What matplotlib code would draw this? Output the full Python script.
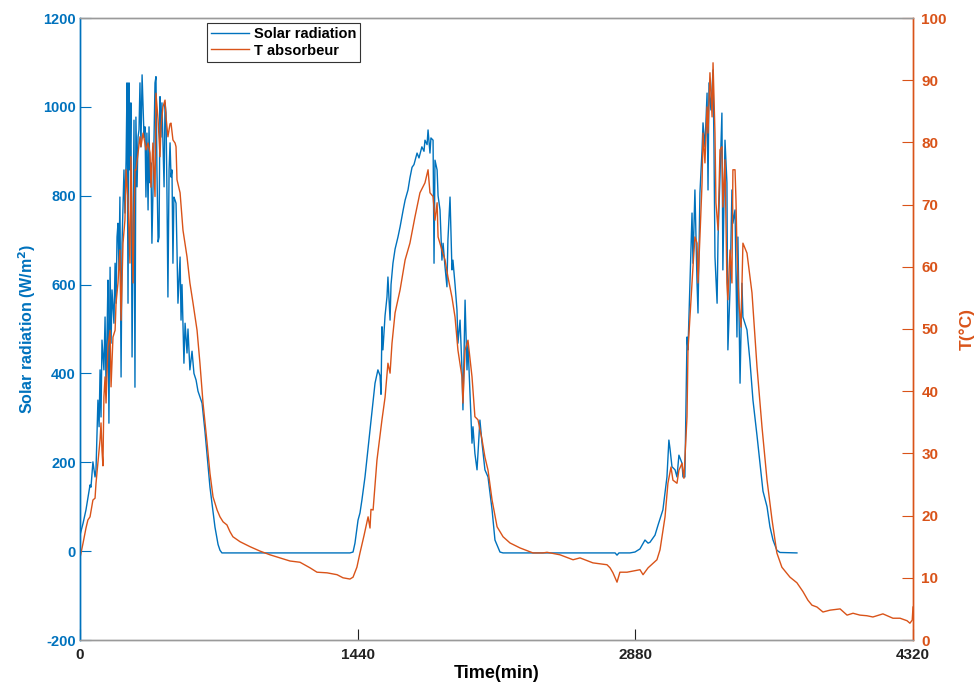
import matplotlib
matplotlib.use("Agg")
import matplotlib.pyplot as plt
from matplotlib.lines import Line2D

# ---------------- data ----------------
t_sun = [0, 16, 31, 52, 57, 67, 78, 83, 93, 99, 104, 109, 114, 124, 130, 135, 140, 145, 150,
         156, 161, 166, 176, 182, 187, 192, 197, 202, 207, 213, 218, 228, 233, 239, 244, 249,
         254, 259, 264, 270, 280, 285, 290, 296, 301, 306, 311, 316, 322, 332, 337, 342, 347,
         353, 358, 363, 368, 373, 384, 389, 394, 399, 405, 410, 415, 420, 425, 436, 441, 446,
         451, 456, 462, 467, 472, 477, 482, 487, 493, 498, 503, 508, 519, 524, 529, 539, 545,
         555, 560, 570, 581, 591, 602, 612, 633, 648, 674, 700, 716, 726, 736,
         1400, 1416, 1426, 1442, 1452, 1462, 1478, 1504, 1530, 1545, 1556, 1561, 1566, 1571,
         1582, 1592, 1597, 1608, 1613, 1623, 1634, 1649, 1660, 1676, 1686, 1701, 1711, 1722,
         1732, 1748, 1758, 1773, 1784, 1789, 1800, 1805, 1815, 1820, 1831, 1836, 1841, 1852,
         1857, 1867, 1877, 1883, 1893, 1903, 1908, 1919, 1929, 1934, 1945, 1955, 1960, 1971,
         1981, 1986, 1997, 2007, 2012, 2023, 2033, 2038, 2048, 2059, 2074, 2085, 2100, 2116,
         2137, 2152, 2178, 2194,
         2775, 2785, 2795, 2852, 2878, 2904, 2930, 2946, 2956, 2982, 2998, 3023, 3044, 3054,
         3060, 3070, 3086, 3096, 3106, 3122, 3127, 3137, 3148, 3153, 3163, 3174, 3179, 3189,
         3200, 3205, 3215, 3226, 3231, 3241, 3252, 3257, 3262, 3272, 3283, 3288, 3293, 3304,
         3309, 3319, 3329, 3334, 3345, 3355, 3360, 3371, 3381, 3386, 3397, 3407, 3412, 3423,
         3433, 3438, 3459, 3474, 3490, 3511, 3526, 3542, 3563, 3578, 3594, 3614, 3630, 3718]
sun = [36, 63, 93, 149, 144, 201, 167, 183, 340, 280, 408, 302, 475, 408, 527, 369, 482, 610, 288,
       639, 468, 588, 513, 648, 558, 707, 738, 633, 797, 392, 693, 858, 761, 880, 1054, 558,
       1054, 858, 1009, 437, 970, 369, 977, 820, 932, 948, 1054, 910, 1072, 932, 955, 797, 941,
       768, 955, 829, 874, 693, 932, 1054, 1068, 858, 696, 707, 1023, 932, 1009, 820, 1009, 986,
       806, 572, 858, 919, 842, 858, 648, 797, 790, 783, 678, 558, 662, 520, 600, 423, 513,
       446, 500, 408, 450, 400, 385, 360, 333, 270, 144, 54, 15, 2, -4,
       -4, -2, 18, 70, 86, 115, 167, 273, 378, 408, 395, 353, 505, 453,
       530, 572, 617, 520, 600, 648, 680, 707, 730, 768, 790, 813, 840, 864,
       870, 896, 885, 910, 900, 925, 915, 948, 896, 930, 925, 648, 880, 858,
       800, 768, 655, 693, 640, 595, 700, 797, 633, 655, 600, 543, 468, 520,
       408, 318, 565, 408, 468, 350, 243, 280, 220, 183, 295, 243, 183, 167,
       93, 25, -2, -4,
       -4, -9, -4, -4, -2, 5, 25, 18, 20, 36, 59, 93, 167, 250,
       230, 190, 183, 167, 216, 198, 167, 167, 482, 453, 603, 761, 648, 813,
       603, 536, 806, 903, 964, 910, 1031, 813, 1054, 993, 1083, 903, 662, 558,
       707, 842, 986, 633, 925, 829, 453, 588, 813, 738, 768, 482, 707, 378,
       603, 527, 498, 430, 340, 260, 200, 135, 100, 55, 25, 2, -3, -4]

t_abs = [0, 16, 31, 41, 52, 67, 78, 83, 93, 104, 109, 114, 119, 124, 130, 135, 145, 156, 161,
         171, 182, 187, 197, 207, 213, 223, 233, 239, 249, 259, 264, 275, 285, 290, 301, 311,
         316, 327, 337, 342, 353, 363, 368, 378, 389, 394, 405, 415, 420, 430, 441, 446, 456,
         467, 472, 482, 493, 498, 503, 519, 534, 555, 570, 586, 607, 622, 638, 659, 674, 690,
         711, 726, 742, 762, 778, 793, 830, 882, 933, 985, 1037, 1089, 1141, 1193, 1229, 1281,
         1333, 1364, 1400, 1416, 1436, 1452, 1473, 1494, 1504, 1509, 1520, 1540, 1566, 1582,
         1597, 1608, 1618, 1634, 1660, 1686, 1711, 1737, 1763, 1789, 1805, 1815, 1831, 1841,
         1852, 1857, 1877, 1893, 1908, 1929, 1945, 1960, 1981, 1986, 1997, 2012, 2033, 2048,
         2064, 2085, 2100, 2116, 2137, 2163, 2194, 2230, 2282, 2349, 2401, 2422, 2489, 2557,
         2593, 2660, 2733, 2749, 2764, 2785, 2800, 2837, 2904, 2920, 2946, 2992, 3008, 3034,
         3049, 3065, 3075, 3096, 3106, 3122, 3132, 3148, 3153, 3174, 3179, 3189, 3200, 3205,
         3215, 3226, 3231, 3241, 3252, 3257, 3267, 3278, 3283, 3293, 3298, 3309, 3319, 3329,
         3334, 3345, 3355, 3360, 3371, 3381, 3386, 3397, 3402, 3407, 3417, 3428, 3438, 3459,
         3485, 3511, 3537, 3563, 3589, 3614, 3640, 3682, 3718, 3749, 3775, 3796, 3822, 3853,
         3890, 3942, 3978, 4009, 4045, 4081, 4112, 4164, 4216, 4253, 4289, 4304, 4316, 4320]
temp = [13.2, 15.6, 18.0, 19.3, 19.8, 22.5, 22.8, 25.2, 28.5, 32.2, 34.9, 30.5, 28.0, 39.1, 42.3,
        38.1, 47.1, 49.8, 40.7, 48.7, 49.8, 54.2, 57.4, 62.7, 51.4, 63.8, 67.5, 75.6, 70.7, 60.6,
        77.7, 57.4, 75.6, 75.6, 78.3, 80.9, 79.3, 81.5, 79.9, 78.8, 79.9, 78.3, 72.8, 79.9, 71.3,
        87.9, 83.6, 77.7, 82.5, 85.7, 86.8, 84.1, 80.9, 83.0, 83.1, 80.4, 79.9, 79.3, 74.0, 71.9,
        65.9, 61.6, 57.4, 54.2, 49.8, 44.5, 38.1, 31.7, 26.8, 23.0, 20.9, 19.8, 19.0, 18.5, 17.4,
        16.6, 15.8, 15.0, 14.3, 13.7, 13.2, 12.7, 12.5, 11.6, 10.9, 10.8,
        10.5, 10.0, 9.8, 10.1, 11.7, 14.0, 16.8, 19.8, 18.0, 21.0, 20.9, 28.9, 35.4, 39.0,
        44.5, 42.9, 47.7, 52.6, 56.3, 61.1, 63.8, 68.0, 71.9, 73.5, 75.6, 71.9, 71.3, 67.5,
        70.3, 64.8, 62.7, 61.1, 58.4, 55.1, 51.9, 46.6, 42.3, 38.1, 46.6, 48.2, 42.3, 35.9,
        35.4, 32.2, 29.4, 27.3, 22.5, 18.2, 16.6, 15.6, 14.8, 14.0, 14.0, 14.1, 13.7, 12.9,
        13.2, 12.4, 12.1, 11.6, 10.8, 9.3, 10.9, 10.9, 11.3, 10.5, 11.6, 12.9, 14.5, 19.8,
        25.2, 27.8, 25.7, 25.2, 27.3, 28.4, 26.0, 35.9, 46.6, 57.4, 60.0, 64.8, 63.8, 57.4,
        64.8, 73.5, 81.5, 76.7, 85.7, 81.5, 91.2, 84.1, 92.8, 81.5, 70.3, 65.9, 78.8, 79.3,
        69.6, 77.2, 57.4, 54.7, 62.7, 57.4, 75.6, 75.6, 70.7, 62.7, 54.2, 50.3, 63.8, 62.2,
        55.8, 43.9, 34.2, 25.7, 19.3, 14.0, 11.7, 10.1, 9.2, 7.8, 6.4, 5.6, 5.3, 4.5,
        4.8, 5.0, 4.0, 4.3, 4.0, 3.9, 3.7, 4.2, 3.5, 3.5, 3.1, 2.7, 3.2, 5.3]

x_ticks = [0, 1440, 2880, 4320]
left_ticks = [-200, 0, 200, 400, 600, 800, 1000, 1200]
right_ticks = [0, 10, 20, 30, 40, 50, 60, 70, 80, 90, 100]
legend_labels = ["Solar radiation", "T absorbeur"]

# ---------------- style ----------------
BLUE = "#0072BD"
ORANGE = "#D95319"
plt.rcParams['font.family'] = ['Liberation Sans', 'DejaVu Sans']
plt.rcParams['font.weight'] = 'bold'
plt.rcParams['axes.unicode_minus'] = False

fig = plt.figure(figsize=(9.78, 6.86), dpi=100)
ax = fig.add_axes([80 / 978, 46 / 686, 833 / 978, 622 / 686])
ax2 = ax.twinx()

ax.plot(t_sun, sun, color=BLUE, lw=1.0)
ax2.plot(t_abs, temp, color=ORANGE, lw=1.0)

ax.set_xlim(0, 4320)
ax.set_ylim(-200, 1200)
ax2.set_ylim(0, 100)
ax.set_xticks(x_ticks)
ax.set_yticks(left_ticks)
ax2.set_yticks(right_ticks)

ax.set_xticklabels([str(v) for v in x_ticks], fontsize=11, fontweight='bold')
ax.set_xlabel("Time(min)", fontsize=13, fontweight='bold', labelpad=2)

ax.tick_params(axis='x', direction='in', length=8, width=0.8, colors='#222222', pad=6)
ax.tick_params(axis='y', direction='in', length=8, width=0.8, colors=BLUE, labelsize=10.5, pad=3)
ax2.tick_params(axis='y', direction='in', length=8, width=0.8, colors=ORANGE, labelsize=11, pad=6)
for lab in ax.get_yticklabels() + ax2.get_yticklabels():
    lab.set_fontweight('bold')

ax.set_ylabel("Solar radiation (W/m$^\\mathbf{2}$)", color=BLUE, fontsize=11.5, fontweight='bold', labelpad=4)
ax2.set_ylabel("T(°C)", color=ORANGE, fontsize=12.5, fontweight='bold', labelpad=9)

for a in (ax, ax2):
    a.spines['top'].set_color('#9a9a9a')
    a.spines['bottom'].set_color('#9a9a9a')
    a.spines['left'].set_color(BLUE)
    a.spines['right'].set_color(ORANGE)
    for s in a.spines.values():
        s.set_linewidth(1.0)

handles = [Line2D([], [], color=BLUE, lw=1.0), Line2D([], [], color=ORANGE, lw=1.0)]
leg = ax2.legend(handles, legend_labels, loc='upper left',
                 bbox_to_anchor=(127 / 833, 1 - 5 / 622), fancybox=False, framealpha=1,
                 edgecolor='#333333', prop={'weight': 'bold', 'size': 10.5},
                 handlelength=2.6, handletextpad=0.3, borderpad=0.3, labelspacing=0.15,
                 borderaxespad=0)
leg.get_frame().set_linewidth(0.8)

fig.savefig("out.png", dpi=100)
